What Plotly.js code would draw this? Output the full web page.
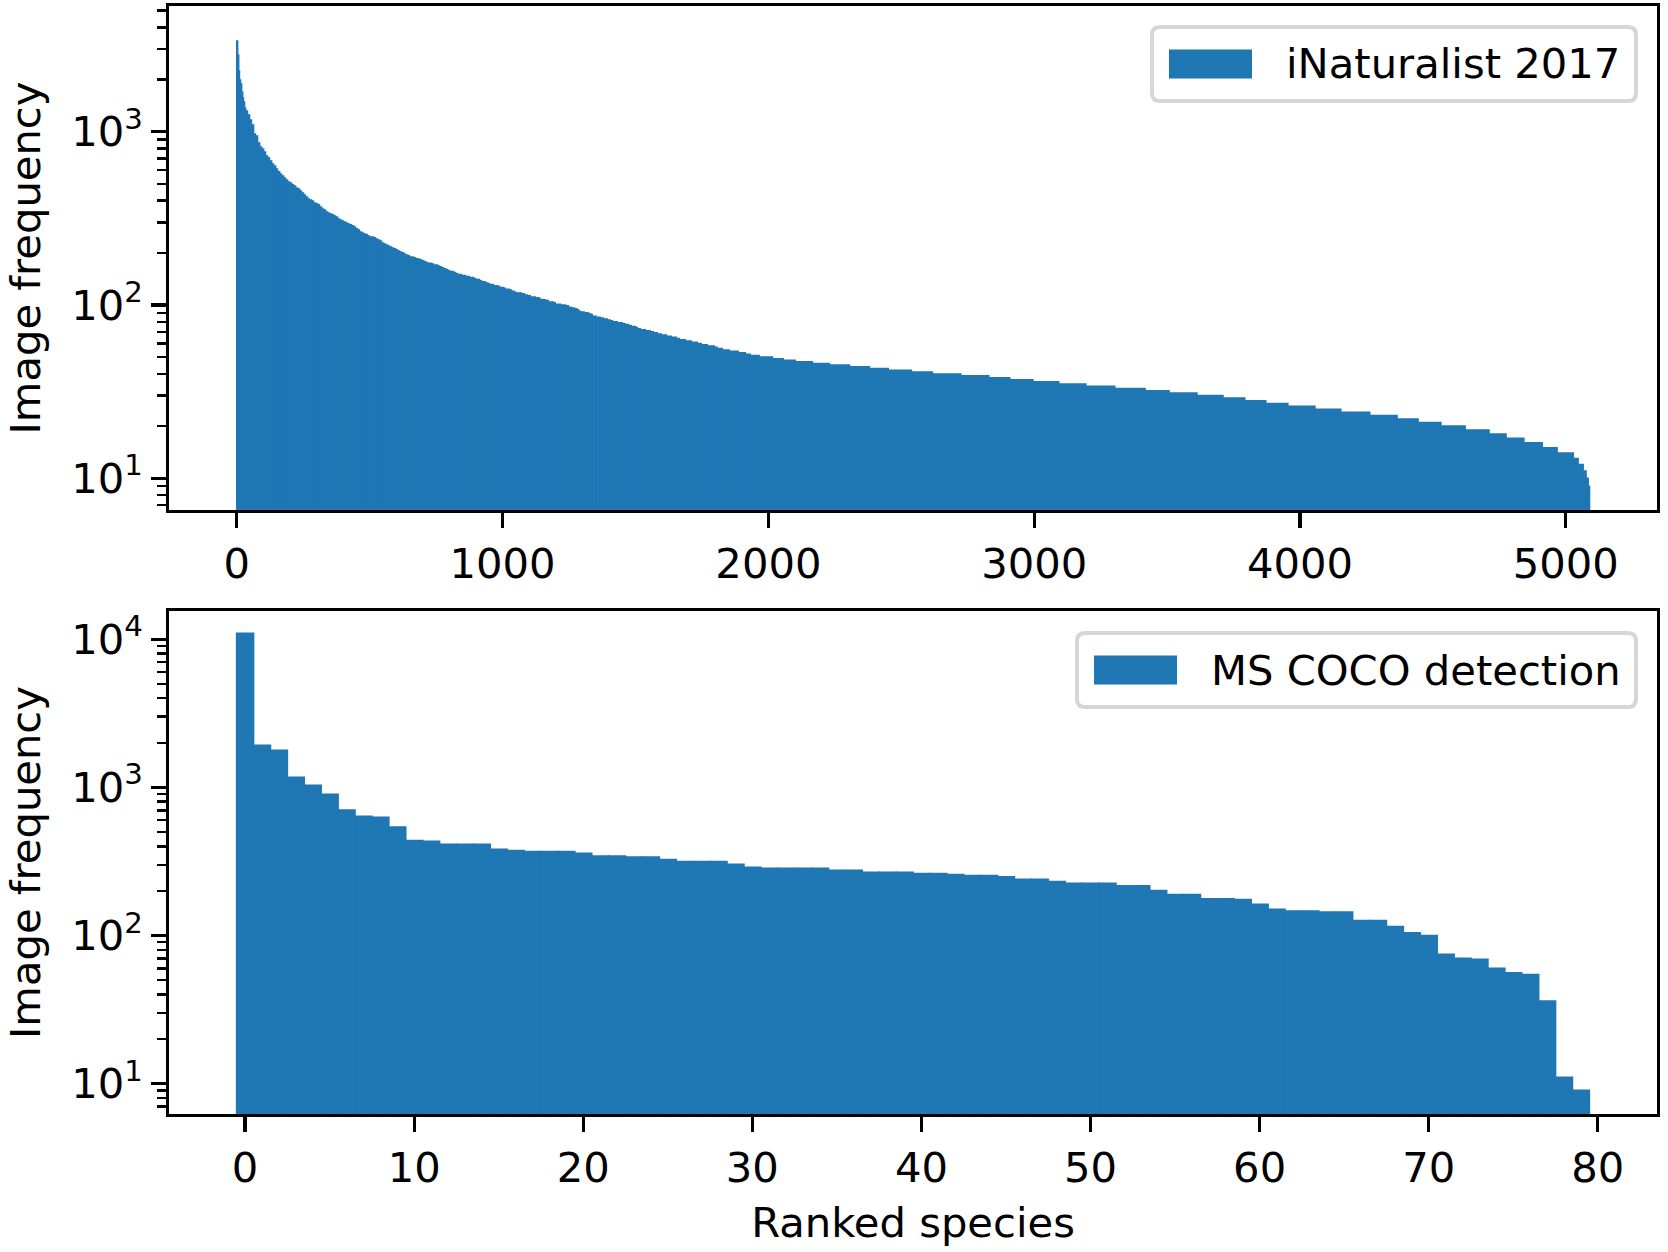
<!DOCTYPE html>
<html>
<head>
<meta charset="utf-8">
<script src="https://cdn.plot.ly/plotly-3.0.1.min.js"></script>
<style>
  html, body { margin: 0; padding: 0; background: #fff; }
  #plot { width: 1668px; height: 1252px; }
</style>
</head>
<body>
<div id="plot"></div>
<script>
// iNaturalist 2017, images per species in rank order.
// Read off the picture as a staircase: step i starts at inatRankStart[i]
// and keeps the count inatCount[i] until the next start.
var inatRankStart = [
  0, 3, 7, 10, 14, 18, 22, 25, 29, 33, 40, 48, 55, 63, 70, 78, 86, 93, 101, 108,
  116, 123, 131, 138, 146, 153, 161, 168, 176, 183, 191, 198, 206, 213, 221, 228, 236, 243, 251, 258,
  266, 273, 281, 288, 296, 303, 311, 319, 326, 334, 341, 349, 356, 364, 371, 379, 386, 394, 401, 409,
  416, 424, 431, 439, 446, 454, 461, 469, 476, 484, 491, 499, 514, 521, 529, 537, 544, 552, 559, 567,
  574, 582, 589, 597, 604, 612, 619, 627, 634, 642, 649, 664, 672, 679, 687, 694, 702, 709, 717, 732,
  740, 755, 762, 770, 777, 785, 792, 800, 815, 822, 830, 845, 860, 875, 890, 898, 913, 920, 935, 943,
  950, 965, 980, 988, 1003, 1010, 1025, 1033, 1044, 1052, 1070, 1082, 1093, 1104, 1123, 1138, 1146, 1161, 1172, 1191,
  1198, 1217, 1236, 1247, 1258, 1270, 1277, 1285, 1292, 1307, 1322, 1330, 1337, 1352, 1367, 1379, 1394, 1405, 1413, 1431,
  1450, 1461, 1473, 1484, 1499, 1507, 1518, 1537, 1555, 1567, 1582, 1597, 1616, 1634, 1653, 1664, 1687, 1710, 1732, 1747,
  1770, 1796, 1807, 1826, 1852, 1886, 1913, 1931, 1965, 2015, 2056, 2101, 2165, 2229, 2305, 2380, 2451, 2538, 2617, 2724,
  2829, 2908, 2995, 3092, 3194, 3303, 3417, 3507, 3612, 3710, 3792, 3871, 3954, 4056, 4153, 4262, 4365, 4444, 4530, 4621,
  4711, 4775, 4842, 4911, 4967, 5028, 5046, 5065, 5076, 5084
];
var inatCount = [
  3337, 2770, 2240, 1988, 1884, 1695, 1565, 1484, 1370, 1316, 1248, 1168, 1093, 970, 945, 861, 816, 795, 764, 724,
  705, 678, 651, 634, 609, 586, 570, 555, 540, 526, 513, 506, 493, 486, 473, 467, 455, 443, 431, 420,
  409, 403, 398, 388, 383, 378, 368, 358, 353, 344, 339, 335, 331, 326, 322, 313, 309, 305, 301, 297,
  293, 290, 286, 282, 275, 271, 264, 260, 257, 254, 250, 247, 244, 240, 237, 234, 228, 225, 222, 219,
  216, 213, 211, 208, 205, 202, 200, 197, 194, 192, 189, 187, 185, 184, 182, 180, 178, 176, 174, 172,
  170, 168, 166, 164, 162, 160, 158, 156, 154, 152, 150, 148, 146, 144, 142, 140, 138, 136, 134, 133,
  131, 129, 128, 126, 125, 123, 122, 120, 118, 117, 116, 114, 113, 111, 110, 108, 107, 106, 104, 103,
  101, 100, 99, 97, 96, 95, 94, 92, 91, 90, 89, 88, 86, 85, 84, 83, 82, 81, 80, 79,
  78, 77, 76, 75, 74, 73, 72, 71, 70, 69, 68, 67, 66, 65, 64, 63, 62, 61, 60, 59,
  58, 57, 56, 55, 54, 53, 52, 51, 50, 49, 48, 47, 46, 45, 44, 43, 42, 41, 40, 39,
  38, 37, 36, 35, 34, 33, 32, 31, 30, 29, 28, 27, 26, 25, 24, 23, 22, 21, 20, 19,
  18, 17, 16, 15, 14, 13, 12, 11, 10, 9
];
var inatSpecies = 5089;

// MS COCO detection, images per category in rank order (80 categories)
var cocoCount = [
  10970, 1923, 1778, 1170, 1032, 898, 703, 637, 627, 540,
  438, 432, 412, 412, 412, 381, 375, 369, 369, 369,
  358, 344, 344, 338, 338, 326, 316, 316, 316, 302,
  288, 284, 284, 284, 284, 275, 275, 267, 267, 267,
  262, 262, 258, 254, 254, 249, 239, 239, 231, 225,
  225, 225, 216, 216, 201, 189, 189, 177, 177, 175,
  162, 150, 146, 146, 144, 144, 126, 126, 115, 104,
  100, 74.5, 70, 69, 60, 56, 54.5, 36, 11, 9
];

var seriesNames = ['iNaturalist 2017', 'MS COCO detection'];
var yTickVals = [10, 100, 1000, 10000];
var yTickText = ['10<sup>1</sup>', '10<sup>2</sup>', '10<sup>3</sup>', '10<sup>4</sup>'];

var blue = '#1f77b4';
var FONT = 'DejaVu Sans';
var FS = 41.7;

// step widths from the rank starts
var inatWidth = inatRankStart.map(function(s, i) {
  var next = (i + 1 < inatRankStart.length) ? inatRankStart[i + 1] : inatSpecies;
  return next - s;
});
var cocoRank = cocoCount.map(function(v, i) { return i; });

// matplotlib-like minor ticks on the log axes (2..9 in each decade)
var minorVals = [];
for (var k = 0; k < 5; k++) {
  for (var d = 2; d <= 9; d++) minorVals.push(d * Math.pow(10, k));
}

var data = [{
  type: 'bar',
  x: inatRankStart,
  y: inatCount,
  width: inatWidth,
  offset: 0,
  xaxis: 'x', yaxis: 'y',
  name: seriesNames[0],
  marker: {color: blue, line: {color: blue, width: 1.6}},
  showlegend: false
}, {
  type: 'bar',
  x: cocoRank,
  y: cocoCount,
  width: 1,
  xaxis: 'x2', yaxis: 'y2',
  name: seriesNames[1],
  marker: {color: blue, line: {color: blue, width: 1.6}},
  showlegend: false
}];

// page geometry (px) so the hand-drawn legends sit where matplotlib put them
var W = 1668, H = 1252;
var M = {l: 169, r: 11, t: 6, b: 138};
function fx(px) { return (px - M.l) / (W - M.l - M.r); }
function fy(py) { return (H - M.b - py) / (H - M.t - M.b); }

function roundBox(x0, y0, x1, y1, r) {
  function p(x, y) { return fx(x) + ',' + fy(y); }
  return 'M' + p(x0 + r, y0) + ' L' + p(x1 - r, y0) + ' Q' + p(x1, y0) + ' ' + p(x1, y0 + r) +
         ' L' + p(x1, y1 - r) + ' Q' + p(x1, y1) + ' ' + p(x1 - r, y1) +
         ' L' + p(x0 + r, y1) + ' Q' + p(x0, y1) + ' ' + p(x0, y1 - r) +
         ' L' + p(x0, y0 + r) + ' Q' + p(x0, y0) + ' ' + p(x0 + r, y0) + ' Z';
}

var legendBoxes = [
  {x0: 1152, y0: 27, x1: 1636, y1: 101},
  {x0: 1077, y0: 633, x1: 1636, y1: 707}
];
var shapes = [];
var annotations = [];
legendBoxes.forEach(function(b, i) {
  var cy = (b.y0 + b.y1) / 2;
  shapes.push({
    type: 'path', xref: 'paper', yref: 'paper',
    path: roundBox(b.x0, b.y0, b.x1, b.y1, 8),
    line: {color: '#d6d6d6', width: 4}, fillcolor: 'rgba(255,255,255,0.8)'
  });
  shapes.push({
    type: 'rect', xref: 'paper', yref: 'paper',
    x0: fx(b.x0 + 17), x1: fx(b.x0 + 100), y0: fy(cy - 14.5), y1: fy(cy + 14.5),
    line: {width: 0}, fillcolor: blue
  });
  annotations.push({
    xref: 'paper', yref: 'paper', x: fx(b.x0 + 132), y: fy(cy),
    xanchor: 'left', yanchor: 'middle', showarrow: false,
    text: seriesNames[i], font: {family: FONT, size: FS, color: '#000'}
  });
});

function xAxis(range, dtick, anchor) {
  return {
    anchor: anchor, domain: [0, 1], range: range,
    tickmode: 'linear', tick0: 0, dtick: dtick,
    ticks: 'outside', ticklen: 14.6, tickwidth: 3.3, tickcolor: '#000',
    showline: true, linewidth: 3.3, linecolor: '#000', mirror: true,
    showgrid: false, zeroline: false,
    tickfont: {family: FONT, size: FS, color: '#000'}
  };
}
function yAxis(range, domain, anchor) {
  return {
    anchor: anchor, domain: domain, type: 'log', range: range,
    tickmode: 'array', tickvals: yTickVals, ticktext: yTickText,
    ticks: 'outside', ticklen: 14.6, tickwidth: 3.3, tickcolor: '#000',
    minor: {tickmode: 'array', tickvals: minorVals, ticks: 'outside',
            ticklen: 8.3, tickwidth: 2.5, tickcolor: '#000', showgrid: false},
    showline: true, linewidth: 3.3, linecolor: '#000', mirror: true,
    showgrid: false, zeroline: false,
    tickfont: {family: FONT, size: FS, color: '#000'},
    title: {text: 'Image frequency', font: {family: FONT, size: FS, color: '#000'}, standoff: 18}
  };
}

var xa2 = xAxis([-4.5, 83.5], 10, 'y2');
xa2.title = {text: 'Ranked species', font: {family: FONT, size: FS, color: '#000'}, standoff: 18};

var layout = {
  width: W, height: H,
  margin: {l: M.l, r: M.r, t: M.t, b: M.b, pad: 0},
  paper_bgcolor: '#fff', plot_bgcolor: '#fff',
  font: {family: FONT, size: FS, color: '#000'},
  bargap: 0,
  showlegend: false,
  xaxis: xAxis([-255, 5343], 1000, 'y'),
  yaxis: yAxis([0.817, 3.7253], [1 - (504 / (H - M.t - M.b)), 1], 'x'),
  xaxis2: xa2,
  yaxis2: yAxis([0.794, 4.191], [0, 503 / (H - M.t - M.b)], 'x2'),
  shapes: shapes,
  annotations: annotations
};

Plotly.newPlot('plot', data, layout, {staticPlot: true});
</script>
</body>
</html>
